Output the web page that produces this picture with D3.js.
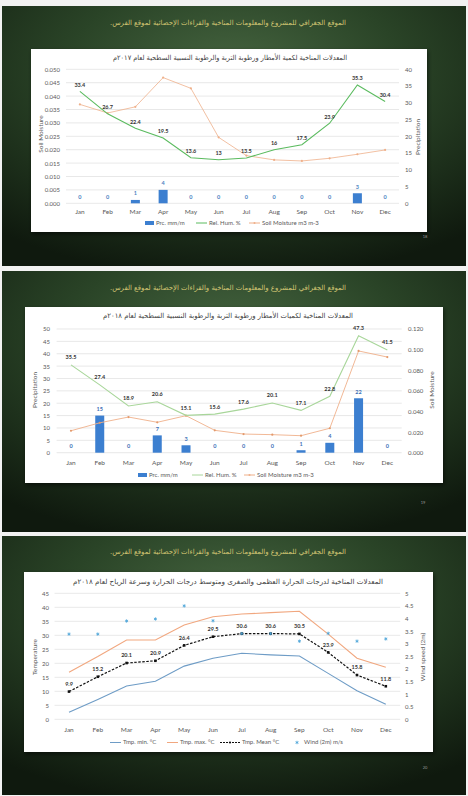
<!DOCTYPE html>
<html>
<head>
<meta charset="utf-8">
<script src="https://cdn.jsdelivr.net/npm/d3@7"></script>
<style>
  html,body{margin:0;padding:0;background:#f2f2f2;}
  svg{display:block;}
  text{font-family:Lato, "Open Sans", sans-serif;}
  .ar{font-family:"DejaVu Sans", sans-serif;}
</style>
</head>
<body>
<script>
// ---------------- DATA ----------------
const months = ["Jan","Feb","Mar","Apr","May","Jun","Jul","Aug","Sep","Oct","Nov","Dec"];

const headerText = "الموقع الجغرافي للمشروع والمعلومات المناخية والقراءات الإحصائية لموقع الفرس.";

// Chart 1 (2017)
const title2017 = "المعدلات المناخية لكمية الأمطار ورطوبة التربة والرطوبة النسبية السطحية لعام ٢٠١٧م";
const prc2017 = [0,0,1,4,0,0,0,0,0,0,3,0];
const relHum2017 = [33.4,26.7,22.4,19.5,13.6,13,13.5,16,17.5,23.9,35.3,30.4];
const soil2017 = [0.0369,0.0337,0.0360,0.0469,0.0429,0.0246,0.0178,0.0162,0.0158,0.0168,0.0183,0.0199];
const soilTicks2017 = [0,0.005,0.01,0.015,0.02,0.025,0.03,0.035,0.04,0.045,0.05];
const prcTicks2017 = [0,5,10,15,20,25,30,35,40];

// Chart 2 (2018)
const title2018 = "المعدلات المناخية لكميات الأمطار ورطوبة التربة والرطوبة النسبية السطحية لعام ٢٠١٨م";
const prc2018 = [0,15,0,7,3,0,0,0,1,4,22,0];
const relHum2018 = [35.5,27.4,18.9,20.6,15.1,15.6,17.6,20.1,17.1,22.8,47.3,41.5];
const soil2018 = [0.0213,0.0290,0.0346,0.0295,0.0359,0.0217,0.0181,0.0175,0.0165,0.0237,0.0987,0.0928];
const prcTicks2018 = [0,5,10,15,20,25,30,35,40,45,50];
const soilTicks2018 = [0,0.02,0.04,0.06,0.08,0.1,0.12];

// Chart 3 (2018 temperature & wind)
const titleTemp = "المعدلات المناخية لدرجات الحرارة العظمى والصغرى ومتوسط درجات الحرارة وسرعة الرياح لعام ٢٠١٨م";
const tmin = [2.5,7.1,11.9,13.6,19.0,21.8,23.6,23.0,22.6,16.4,10.2,5.4];
const tmax = [16.8,22.4,28.3,28.3,33.7,36.6,37.6,38.1,38.6,30.4,21.8,18.6];
const tmean = [9.9,15.2,20.1,20.9,26.4,29.5,30.6,30.6,30.5,23.9,15.8,11.8];
const wind = [3.38,3.38,3.9,3.98,4.5,3.91,3.4,3.4,3.1,3.41,3.1,3.19];
const tempTicks = [0,5,10,15,20,25,30,35,40,45];
const windTicks = [0,0.5,1,1.5,2,2.5,3,3.5,4,4.5,5];

const slideNumbers = ["18","19","20"];

// ---------------- DRAW ----------------
const W = 468, H = 796;
const svg = d3.select("body").append("svg").attr("width", W).attr("height", H);
const defs = svg.append("defs");
const rg = defs.append("radialGradient").attr("id","bg").attr("cx","50%").attr("cy","25%").attr("r","80%");
rg.append("stop").attr("offset","0%").attr("stop-color","#466540");
rg.append("stop").attr("offset","45%").attr("stop-color","#2a4427");
rg.append("stop").attr("offset","100%").attr("stop-color","#0f190e");
const sh = defs.append("filter").attr("id","sh").attr("x","-5%").attr("y","-5%").attr("width","110%").attr("height","115%");
sh.append("feDropShadow").attr("dx",1).attr("dy",2).attr("stdDeviation",2).attr("flood-color","#000").attr("flood-opacity",0.55);

const slides = [
  {y:6, h:260, headY:23},
  {y:271, h:261, headY:288},
  {y:536, h:259, headY:552}
];
slides.forEach((s,i)=>{
  svg.append("rect").attr("x",2).attr("y",s.y).attr("width",464).attr("height",s.h).attr("fill","url(#bg)");
  svg.append("text").attr("class","ar").attr("x",228).attr("y",s.headY)
    .attr("text-anchor","middle").attr("direction","rtl").attr("dominant-baseline","middle")
    .attr("font-size",7).attr("fill","#d3c673")
    .attr("textLength",236).attr("lengthAdjust","spacingAndGlyphs")
    .text(headerText);
});

const GRID = "#d9d9d9", TICK = "#595959";

function panel(p){
  svg.append("rect").attr("x",p.x).attr("y",p.y).attr("width",p.w).attr("height",p.h)
    .attr("fill","#fff").attr("filter","url(#sh)");
}
function chartTitle(t, cx, y, len){
  svg.append("text").attr("class","ar").attr("x",cx).attr("y",y)
    .attr("text-anchor","middle").attr("direction","rtl").attr("dominant-baseline","middle")
    .attr("font-size",7).attr("fill","#404040")
    .attr("textLength",len).attr("lengthAdjust","spacingAndGlyphs").text(t);
}
function grid(y, ticks, x){
  svg.append("g").selectAll("line").data(ticks).join("line")
    .attr("x1",x.range()[0]).attr("x2",x.range()[1])
    .attr("y1",d=>y(d)).attr("y2",d=>y(d)).attr("stroke",GRID).attr("stroke-width",0.6);
}
function leftAxis(y, ticks, fmt, xPos){
  const g = svg.append("g").attr("transform",`translate(${xPos},0)`)
    .call(d3.axisLeft(y).tickValues(ticks).tickSize(0).tickPadding(0).tickFormat(fmt));
  g.select(".domain").remove();
  g.selectAll("text").attr("font-size",6).attr("fill",TICK).attr("font-family","Lato");
}
function rightAxis(y, ticks, fmt, xPos){
  const g = svg.append("g").attr("transform",`translate(${xPos},0)`)
    .call(d3.axisRight(y).tickValues(ticks).tickSize(0).tickPadding(0).tickFormat(fmt));
  g.select(".domain").remove();
  g.selectAll("text").attr("font-size",6).attr("fill",TICK).attr("font-family","Lato");
}
function monthAxis(x, yPos){
  const g = svg.append("g").attr("transform",`translate(0,${yPos})`)
    .call(d3.axisBottom(x).tickSize(0).tickPadding(0));
  g.select(".domain").remove();
  g.selectAll("text").attr("dy","0.35em").attr("font-size",6.5).attr("fill",TICK).attr("font-family","Lato");
}
function axisTitle(t, x, y){
  svg.append("text").attr("transform",`translate(${x},${y}) rotate(-90)`)
    .attr("text-anchor","middle").attr("dominant-baseline","middle")
    .attr("font-size",6.5).attr("fill",TICK).text(t);
}
function xc(x, m){ return x(m) + x.bandwidth()/2; }

function bars(x, y, vals, color, labelColor){
  const bw = 9;
  svg.append("g").selectAll("rect").data(vals).join("rect")
    .attr("x",(d,i)=>xc(x,months[i])-bw/2).attr("width",bw)
    .attr("y",d=>y(d)).attr("height",d=>y(0)-y(d)).attr("fill",color);
  svg.append("g").selectAll("text").data(vals).join("text")
    .attr("x",(d,i)=>xc(x,months[i])).attr("y",d=>y(d)-6)
    .attr("text-anchor","middle").attr("dominant-baseline","middle")
    .attr("font-size",5.5).attr("font-weight","bold").attr("fill",labelColor).text(d=>d);
}
function line(x, y, vals, color, width, dash, curve){
  const gen = d3.line().x((d,i)=>xc(x,months[i])).y(d=>y(d)).curve(curve||d3.curveLinear);
  svg.append("path").datum(vals).attr("d",gen).attr("fill","none")
    .attr("stroke",color).attr("stroke-width",width).attr("stroke-dasharray",dash||null);
}
function dots(x, y, vals, color, r){
  svg.append("g").selectAll("circle").data(vals).join("circle")
    .attr("cx",(d,i)=>xc(x,months[i])).attr("cy",d=>y(d)).attr("r",r).attr("fill",color);
}
function labels(x, y, vals, color, off){
  svg.append("g").selectAll("text").data(vals).join("text")
    .attr("x",(d,i)=>xc(x,months[i])).attr("y",d=>y(d)-off)
    .attr("text-anchor","middle").attr("dominant-baseline","middle")
    .attr("font-size",5.5).attr("font-weight","bold").attr("fill",color).text(d=>d);
}
function legendRect(x, y, color, text){
  svg.append("rect").attr("x",x).attr("y",y-2).attr("width",9).attr("height",4).attr("fill",color);
  svg.append("text").attr("x",x+11).attr("y",y).attr("dominant-baseline","middle")
    .attr("font-size",6).attr("fill",TICK).text(text);
}
function legendLine(x, y, color, text, opts){
  opts = opts||{};
  const len = opts.len||11;
  svg.append("line").attr("x1",x).attr("x2",x+len).attr("y1",y).attr("y2",y)
    .attr("stroke",color).attr("stroke-width",opts.w||1).attr("stroke-dasharray",opts.dash||null);
  if(opts.marker){
    svg.append("circle").attr("cx",x+len/2).attr("cy",y).attr("r",opts.marker).attr("fill",color);
  }
  svg.append("text").attr("x",x+len+2).attr("y",y).attr("dominant-baseline","middle")
    .attr("font-size",6).attr("fill",TICK).text(text);
}
function slideNum(t, x, y){
  svg.append("text").attr("x",x).attr("y",y).attr("text-anchor","middle").attr("dominant-baseline","middle")
    .attr("font-size",4).attr("fill","#9a9a9a").text(t);
}

const BLUE = "#3c7fd0", GREEN1 = "#5bbb5f", ORANGE = "#efb08a";

// ---- Chart 1 ----
{
  panel({x:31,y:49,w:396,h:183});
  chartTitle(title2017, 230, 58, 234);
  const x = d3.scaleBand().domain(months).range([66,399]);
  const yL = d3.scaleLinear().domain([0,0.05]).range([203.3,69.3]);
  const yR = d3.scaleLinear().domain([0,40]).range([203.3,69.3]);
  grid(yL, soilTicks2017, x);
  leftAxis(yL, soilTicks2017, d3.format(".3f"), 60);
  rightAxis(yR, prcTicks2017, d3.format("d"), 405);
  monthAxis(x, 212);
  axisTitle("Soil Moisture", 41, 134);
  axisTitle("Precipitation", 418, 137);
  bars(x, yR, prc2017, BLUE, "#4a7fc1");
  line(x, yL, soil2017, ORANGE, 0.8);
  dots(x, yL, soil2017, ORANGE, 1.1);
  line(x, yR, relHum2017, GREEN1, 1.1);
  labels(x, yR, relHum2017, "#333", 6);
  legendRect(145, 223, BLUE, "Prc. mm/m");
  legendLine(196, 223, GREEN1, "Rel. Hum. %");
  legendLine(249, 223, ORANGE, "Soil Moisture m3 m-3", {marker:1});
  slideNum(slideNumbers[0], 425, 237);
}

// ---- Chart 2 ----
{
  panel({x:25,y:307,w:418,h:176});
  chartTitle(title2018, 228, 316, 250);
  const x = d3.scaleBand().domain(months).range([56.6,401.7]);
  const yL = d3.scaleLinear().domain([0,50]).range([452.7,329]);
  const yR = d3.scaleLinear().domain([0,0.12]).range([452.7,329]);
  grid(yL, prcTicks2018, x);
  leftAxis(yL, prcTicks2018, d3.format("d"), 50);
  rightAxis(yR, soilTicks2018, d3.format(".3f"), 408);
  monthAxis(x, 462.5);
  axisTitle("Precipitation", 35, 390);
  axisTitle("Soil Moisture", 432, 390);
  bars(x, yL, prc2018, BLUE, "#3d6fb6");
  line(x, yR, soil2018, ORANGE, 0.9);
  dots(x, yR, soil2018, "#e39a6c", 1.1);
  line(x, yL, relHum2018, "#a8d69a", 1.1);
  labels(x, yL, relHum2018, "#333", 7);
  legendRect(138, 475, BLUE, "Prc. mm/m");
  legendLine(192, 475, "#a8d69a", "Rel. Hum. %");
  legendLine(244, 475, ORANGE, "Soil Moisture m3 m-3", {marker:1});
  slideNum(slideNumbers[1], 423, 503);
}

// ---- Chart 3 ----
{
  panel({x:24,y:572,w:409,h:180});
  chartTitle(titleTemp, 228, 582, 310);
  const x = d3.scaleBand().domain(months).range([54.6,400.2]);
  const yL = d3.scaleLinear().domain([0,45]).range([719.3,593.3]);
  const yR = d3.scaleLinear().domain([0,5]).range([719.3,593.3]);
  grid(yL, tempTicks, x);
  leftAxis(yL, tempTicks, d3.format("d"), 49);
  rightAxis(yR, windTicks, d3.format(""), 405);
  monthAxis(x, 729.5);
  axisTitle("Temperature", 35, 657);
  axisTitle("Wind speed (2m)", 423, 657);
  line(x, yL, tmin, "#6e9cc6", 1.1);
  line(x, yL, tmax, "#f1a77f", 1.1);
  line(x, yL, tmean, "#111", 1.2, "2.5,1.5");
  svg.append("g").selectAll("rect").data(tmean).join("rect")
    .attr("x",(d,i)=>xc(x,months[i])-1.3).attr("y",d=>yL(d)-1.3)
    .attr("width",2.6).attr("height",2.6).attr("fill","#111");
  labels(x, yL, tmean, "#333", 7);
  svg.append("g").selectAll("path").data(wind).join("path")
    .attr("transform",(d,i)=>`translate(${xc(x,months[i])},${yR(d)})`)
    .attr("d",d3.symbol(d3.symbolAsterisk, 8)).attr("fill","none").attr("stroke","#4aa3d8").attr("stroke-width",0.8);
  legendLine(110, 742.5, "#6e9cc6", "Tmp. min. °C");
  legendLine(167, 742.5, "#f1a77f", "Tmp. max. °C");
  legendLine(220, 742.5, "#111", "Tmp. Mean °C", {dash:"2,1", len:20, marker:1.1});
  svg.append("path").attr("transform","translate(297,742.5)")
    .attr("d",d3.symbol(d3.symbolAsterisk, 8)).attr("fill","none").attr("stroke","#4aa3d8").attr("stroke-width",0.8);
  svg.append("text").attr("x",304).attr("y",742.5).attr("dominant-baseline","middle")
    .attr("font-size",6).attr("fill",TICK).text("Wind (2m) m/s");
  slideNum(slideNumbers[2], 425, 768);
}
</script>
</body>
</html>
